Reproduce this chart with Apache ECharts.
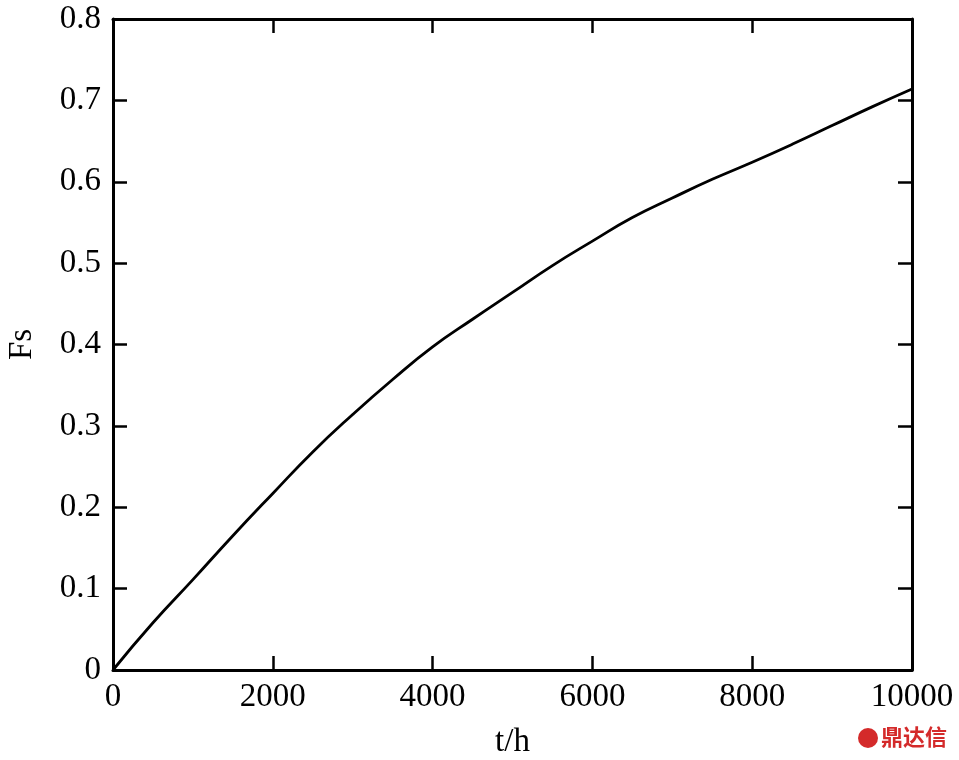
<!DOCTYPE html>
<html>
<head>
<meta charset="utf-8">
<script src="https://cdn.jsdelivr.net/npm/echarts@6/dist/echarts.min.js"></script>
<style>html,body{margin:0;padding:0;background:#fff;}#c{width:959px;height:760px;}</style>
</head>
<body>
<div id="c"></div>
<script>
const tValues = [0, 500, 1000, 1500, 2000, 2500, 3000, 3500, 4000, 4500, 5000, 5500, 6000, 6500, 7000, 7500, 8000, 8500, 9000, 9500, 10000];
const fsValues = [0, 0.058, 0.111, 0.165, 0.217, 0.268, 0.314, 0.357, 0.397, 0.431, 0.464, 0.497, 0.527, 0.556, 0.580, 0.603, 0.624, 0.646, 0.669, 0.692, 0.714];
const xName = 't/h';
const yName = 'Fs';
const watermark = '鼎达信';

const font = '"Liberation Serif", "DejaVu Serif", serif';
const chart = echarts.init(document.getElementById('c'));
const axisLine = { show: true, onZero: false, lineStyle: { color: '#000', width: 3 } };
const tick = { show: true, inside: true, length: 14, lineStyle: { color: '#000', width: 2.5 } };
chart.setOption({
  animation: false,
  backgroundColor: '#fff',
  grid: { left: 113, right: 47, top: 19, bottom: 90, containLabel: false, outerBoundsMode: 'none' },
  xAxis: [
    { type: 'value', min: 0, max: 10000, interval: 2000, position: 'bottom',
      name: xName, nameLocation: 'middle', nameGap: 56,
      nameTextStyle: { fontFamily: font, fontSize: 33, color: '#000' },
      axisLine: axisLine, axisTick: tick, splitLine: { show: false },
      axisLabel: { fontFamily: font, fontSize: 33, color: '#000', margin: 11, formatter: v => String(v) } },
    { type: 'value', min: 0, max: 10000, interval: 2000, position: 'top',
      axisLine: axisLine, axisTick: tick, splitLine: { show: false },
      axisLabel: { show: false } }
  ],
  yAxis: [
    { type: 'value', min: 0, max: 0.8, interval: 0.1, position: 'left',
      name: yName, nameLocation: 'middle', nameGap: 74,
      nameTextStyle: { fontFamily: font, fontSize: 33, color: '#000' },
      axisLine: axisLine, axisTick: tick, splitLine: { show: false },
      axisLabel: { fontFamily: font, fontSize: 33, color: '#000', margin: 12,
        formatter: v => (Math.round(v * 10) / 10).toString() } },
    { type: 'value', min: 0, max: 0.8, interval: 0.1, position: 'right',
      axisLine: axisLine, axisTick: tick, splitLine: { show: false },
      axisLabel: { show: false } }
  ],
  series: [{
    type: 'line', smooth: true, symbol: 'none',
    xAxisIndex: 0, yAxisIndex: 0,
    lineStyle: { color: '#000', width: 2.8 },
    data: tValues.map((t, i) => [t, fsValues[i]])
  }],
  graphic: [
    { type: 'circle', shape: { cx: 868, cy: 738, r: 10 }, style: { fill: '#d42a2a' } },
    { type: 'text', left: 881, top: 726, style: { text: watermark, fill: '#d42a2a',
      font: 'bold 22px "Noto Sans CJK SC", sans-serif' } }
  ]
});
</script>
</body>
</html>
